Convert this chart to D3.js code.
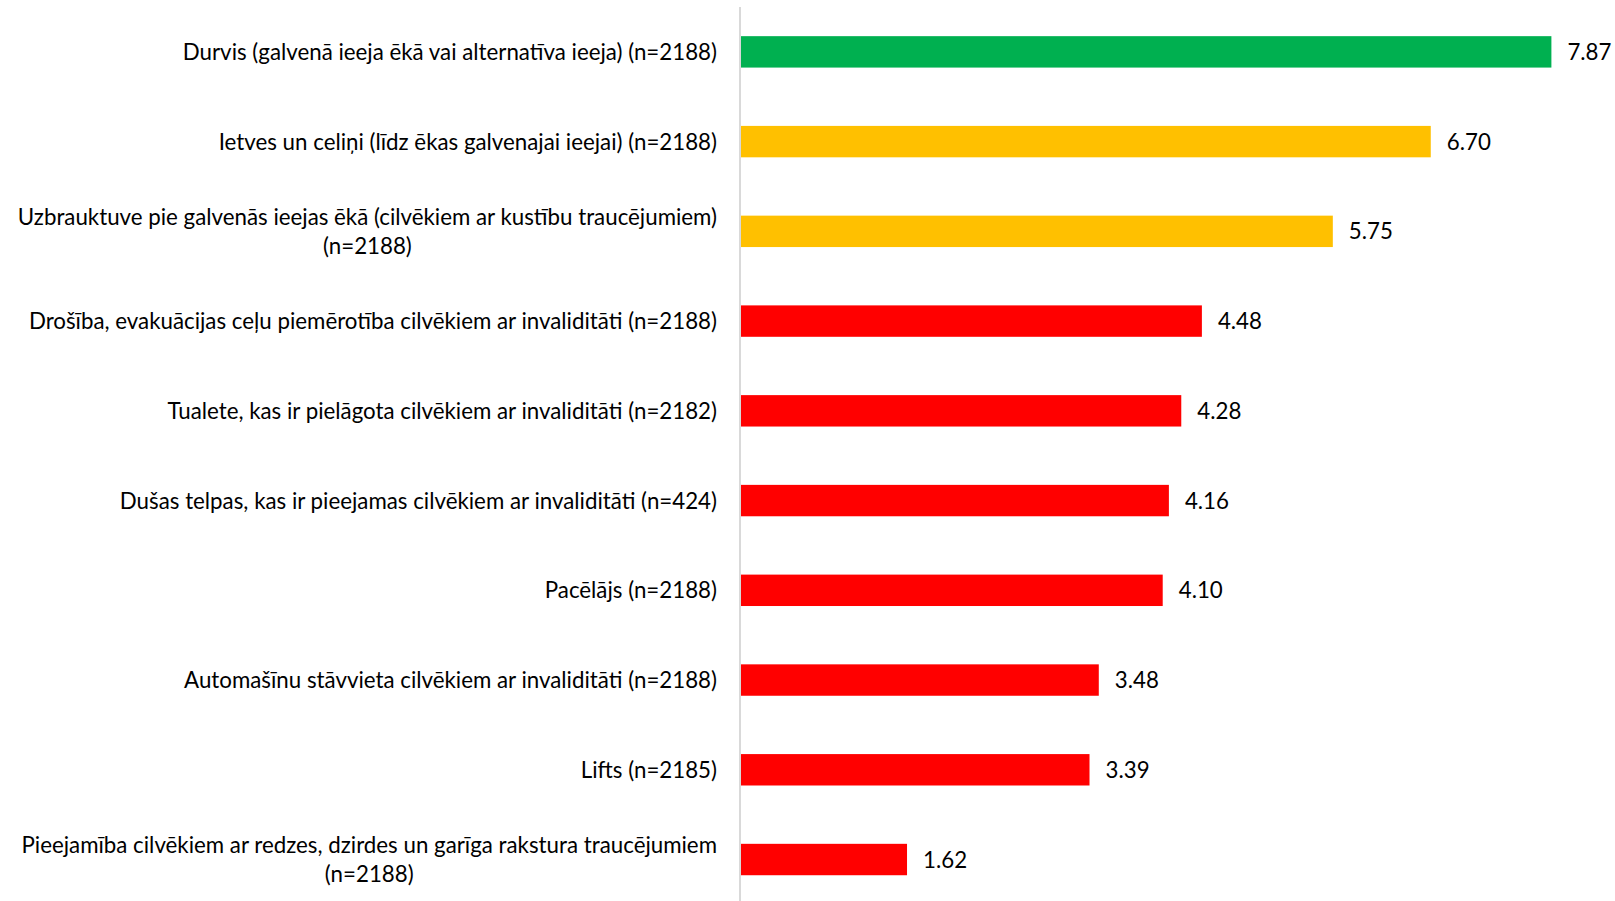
<!DOCTYPE html>
<html>
<head>
<meta charset="utf-8">
<script src="https://cdn.jsdelivr.net/npm/d3@7"></script>
<style>
  html, body { margin: 0; padding: 0; background: #fff; }
  svg { display: block; }
  text { font-family: Lato, "Open Sans", sans-serif; fill: #000; }
</style>
</head>
<body>
<svg id="chart" width="1615" height="901"></svg>
<script>
const categories = [
  ["Durvis (galvenā ieeja ēkā vai alternatīva ieeja) (n=2188)"],
  ["Ietves un celiņi (līdz ēkas galvenajai ieejai) (n=2188)"],
  ["Uzbrauktuve pie galvenās ieejas ēkā (cilvēkiem ar kustību traucējumiem)", "(n=2188)"],
  ["Drošība, evakuācijas ceļu piemērotība cilvēkiem ar invaliditāti (n=2188)"],
  ["Tualete, kas ir pielāgota cilvēkiem ar invaliditāti (n=2182)"],
  ["Dušas telpas, kas ir pieejamas cilvēkiem ar invaliditāti (n=424)"],
  ["Pacēlājs (n=2188)"],
  ["Automašīnu stāvvieta cilvēkiem ar invaliditāti (n=2188)"],
  ["Lifts (n=2185)"],
  ["Pieejamība cilvēkiem ar redzes, dzirdes un garīga rakstura traucējumiem", "(n=2188)"]
];
const values = [7.87, 6.70, 5.75, 4.48, 4.28, 4.16, 4.10, 3.48, 3.39, 1.62];
const barColors = ["#00B050", "#FFC000", "#FFC000", "#FF0000", "#FF0000", "#FF0000", "#FF0000", "#FF0000", "#FF0000", "#FF0000"];

const svg = d3.select("#chart");
const axisX = 740;
const x = d3.scaleLinear().domain([0, 8]).range([axisX, axisX + 8 * 103.1]);
const y = d3.scaleBand().domain(d3.range(values.length)).range([7, 904.4]).paddingInner(0.65).paddingOuter(0.325);

const fontSize = 22.3;

// bars
svg.selectAll("rect.bar").data(values).join("rect")
  .attr("class", "bar")
  .attr("x", x(0))
  .attr("y", (d, i) => y(i))
  .attr("width", d => x(d) - x(0))
  .attr("height", y.bandwidth())
  .attr("fill", (d, i) => barColors[i]);

// axis line
svg.append("line")
  .attr("x1", axisX).attr("x2", axisX)
  .attr("y1", 7).attr("y2", 901)
  .attr("stroke", "#d9d9d9").attr("stroke-width", 2);

// value labels
svg.selectAll("text.val").data(values).join("text")
  .attr("class", "val")
  .attr("x", d => x(d) + 16)
  .attr("y", (d, i) => y(i) + y.bandwidth() / 2)
  .attr("dy", "0.36em")
  .style("font-size", fontSize + "px")
  .text(d => d.toFixed(2));

// category labels
const labelRight = 717;
const lineH = 29;
const g = svg.append("g");
categories.forEach((lines, i) => {
  const cy = y(i) + y.bandwidth() / 2;
  const t = g.append("text")
    .style("font-size", fontSize + "px")
    .attr("text-anchor", "end");
  if (lines.length === 1) {
    t.append("tspan").attr("x", labelRight).attr("y", cy).attr("dy", "0.36em").text(lines[0]);
  } else {
    const tmp = svg.append("text").style("font-size", fontSize + "px");
    const widths = lines.map(l => { tmp.text(l); return tmp.node().getComputedTextLength(); });
    tmp.remove();
    const w = d3.max(widths);
    const cx = labelRight - w / 2;
    t.attr("text-anchor", "middle");
    lines.forEach((l, k) => {
      t.append("tspan").attr("x", cx)
        .attr("y", cy + (k - (lines.length - 1) / 2) * lineH)
        .attr("dy", "0.36em").text(l);
    });
  }
});
</script>
</body>
</html>
